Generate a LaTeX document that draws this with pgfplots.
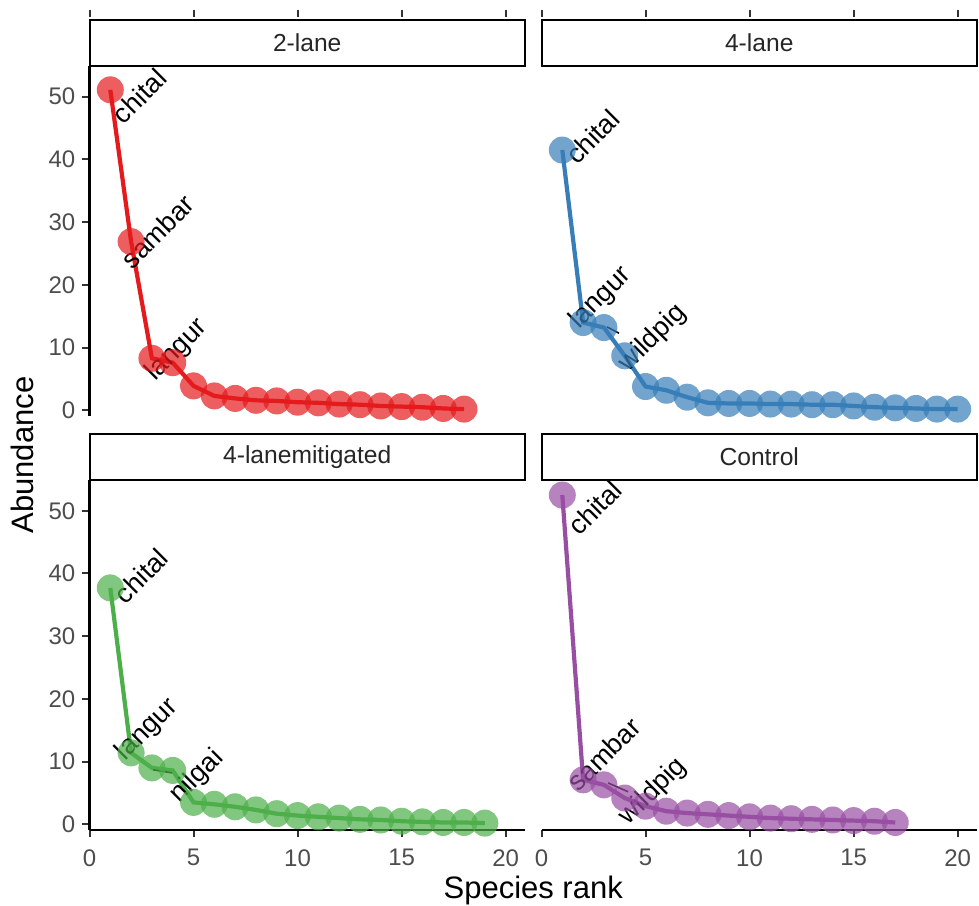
\documentclass[border=0pt]{standalone}
\usepackage{fontspec}
\setmainfont{Liberation Sans}
\usepackage{pgfplots}
\pgfplotsset{compat=1.18}

\definecolor{c2lane}{HTML}{E41A1C}
\definecolor{c4lane}{HTML}{377EB8}
\definecolor{cmitig}{HTML}{4DAF4A}
\definecolor{ccontrol}{HTML}{984EA3}
\definecolor{ticktext}{HTML}{4D4D4D}
\definecolor{tickline}{HTML}{333333}

% rank-abundance values per treatment
\pgfplotstableread{
rank abund
1 51.1
2 26.9
3 8.3
4 7.6
5 3.9
6 2.3
7 1.9
8 1.6
9 1.5
10 1.3
11 1.2
12 1.0
13 0.9
14 0.7
15 0.6
16 0.5
17 0.3
18 0.2
}\twolane
\pgfplotstableread{
rank abund
1 41.5
2 14.0
3 13.2
4 8.7
5 3.8
6 3.2
7 2.1
8 1.2
9 1.1
10 1.1
11 1.0
12 1.0
13 0.9
14 0.9
15 0.7
16 0.5
17 0.4
18 0.3
19 0.2
20 0.2
}\fourlane
\pgfplotstableread{
rank abund
1 37.7
2 11.4
3 9.0
4 8.6
5 3.5
6 3.2
7 2.8
8 2.3
9 1.7
10 1.4
11 1.2
12 1.0
13 0.8
14 0.7
15 0.5
16 0.4
17 0.3
18 0.3
19 0.2
}\mitigated
\pgfplotstableread{
rank abund
1 52.5
2 7.1
3 6.3
4 4.2
5 2.9
6 2.1
7 1.8
8 1.6
9 1.4
10 1.2
11 1.0
12 0.9
13 0.8
14 0.7
15 0.6
16 0.5
17 0.3
}\control

\pgfplotsset{
  facet/.style={
    scale only axis, width=217.75pt, height=175pt,
    xmin=0, xmax=20.93, ymin=-0.9, ymax=54.9,
    clip=false, anchor=south west,
    axis x line*=bottom, axis y line*=left,
    axis line style={line width=1.2pt, black},
    tick style={line width=1pt, tickline},
    tick align=outside, major tick length=3.6pt,
    xtick={0,5,10,15,20}, ytick={0,10,20,30,40,50},
    ticklabel style={font=\fontsize{12}{14}\selectfont, text=ticktext},
    xticklabel style={yshift=-2.5pt},
    /pgf/number format/assume math mode=true,
  },
  pts/.style={only marks, mark=*, mark size=6.75pt,
    mark options={draw opacity=0, fill=#1, fill opacity=0.7}},
  ln/.style={#1, line width=2.1pt, no marks},
}
\tikzset{lab/.style={rotate=45, font=\fontsize{13.5}{15}\selectfont, inner sep=0pt}}

\newcommand{\strip}[1]{%
  \draw[line width=1pt, fill=white] (rel axis cs:0,1) rectangle ([yshift=23pt]rel axis cs:1,1);
  \node[font=\fontsize{12.3}{14}\selectfont, text=black!85] at ([yshift=11.5pt]rel axis cs:0.5,1) {#1};
}
\newcommand{\topticks}{%
  \pgfplotsinvokeforeach{0,5,10,15,20}{%
    \draw[line width=1pt, tickline] ([yshift=24.5pt]axis cs:##1,54.9) -- ([yshift=28pt]axis cs:##1,54.9);}
}

\begin{document}
\begin{tikzpicture}
\path[use as bounding box] (0,0) rectangle (489.5pt,452.5pt);

% 2-lane
\begin{axis}[facet, at={(44.75pt,244.5pt)}, hide x axis]
  \addplot[pts=c2lane] table[x=rank,y=abund] {\twolane};
  \addplot[ln=c2lane] table[x=rank,y=abund] {\twolane};
  \node[lab] at (axis cs:2.4,50.1) {chital};
  \node[lab] at (axis cs:3.27,28.5) {sambar};
  \node[lab] at (axis cs:4.2,9.6) {langur};
  \strip{2-lane}
  \topticks
\end{axis}

% 4-lane
\begin{axis}[facet, at={(270.75pt,244.5pt)}, hide axis]
  \addplot[pts=c4lane] table[x=rank,y=abund] {\fourlane};
  \addplot[ln=c4lane] table[x=rank,y=abund] {\fourlane};
  \node[lab] at (axis cs:2.45,43.6) {chital};
  \node[lab] at (axis cs:2.84,17.9) {langur};
  \node[lab] at (axis cs:5.34,11.5) {wildpig};
  \draw[line width=0.8pt] (axis cs:3.15,13.3) -- (axis cs:3.72,12.3);
  \strip{4-lane}
  \topticks
\end{axis}

% 4-lanemitigated
\begin{axis}[facet, at={(44.75pt,37.5pt)}]
  \addplot[pts=cmitig] table[x=rank,y=abund] {\mitigated};
  \addplot[ln=cmitig] table[x=rank,y=abund] {\mitigated};
  \node[lab] at (axis cs:2.48,39.6) {chital};
  \node[lab] at (axis cs:2.76,15.1) {langur};
  \node[lab] at (axis cs:5.17,7.6) {nilgai};
  \draw[line width=0.8pt] (axis cs:3.05,8.7) -- (axis cs:3.97,8.2);
  \strip{4-lanemitigated}
\end{axis}

% Control
\begin{axis}[facet, at={(270.75pt,37.5pt)}, hide y axis]
  \addplot[pts=ccontrol] table[x=rank,y=abund] {\control};
  \addplot[ln=ccontrol] table[x=rank,y=abund] {\control};
  \node[lab] at (axis cs:2.57,50.5) {chital};
  \node[lab] at (axis cs:3.0,11.2) {sambar};
  \node[lab] at (axis cs:5.36,5.2) {wildpig};
  \draw[line width=0.8pt] (axis cs:3.2,6.6) -- (axis cs:4.16,5.2);
  \strip{Control}
\end{axis}

\node[font=\fontsize{15.5}{18}\selectfont] at (266.6pt,7.5pt) {Species rank};
\node[font=\fontsize{15.5}{18}\selectfont, rotate=90] at (11.25pt,225pt) {Abundance};
\end{tikzpicture}
\end{document}
